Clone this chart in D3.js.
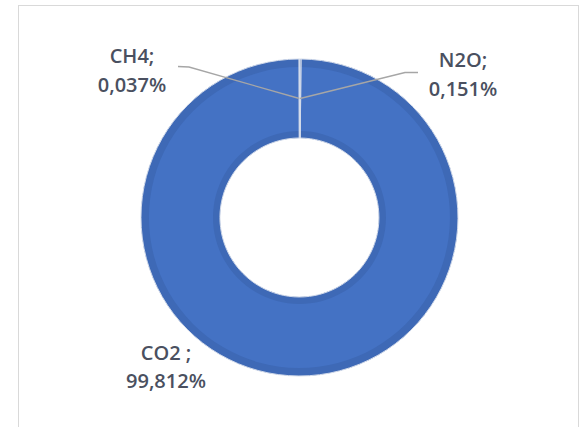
<!DOCTYPE html>
<html>
<head>
<meta charset="utf-8">
<script src="https://cdn.jsdelivr.net/npm/d3@7"></script>
<style>
  html, body { margin: 0; padding: 0; background: #fff; }
  svg { display: block; }
</style>
</head>
<body>
<svg id="chart" width="580" height="427"></svg>
<script>
// Data (drawing order as in the source chart: N2O, CO2, CH4 clockwise from 12 o'clock)
const categories = ["N2O", "CO2", "CH4"];
const values = [0.151, 99.812, 0.037];
const labelNames = ["N2O;", "CO2 ;", "CH4;"];

const fmt = v => v.toFixed(3).replace(".", ",") + "%";

const svg = d3.select("#chart");

// chart frame
svg.append("rect")
  .attr("x", 18.5).attr("y", 5.5)
  .attr("width", 560).attr("height", 440)
  .attr("fill", "#fff")
  .attr("stroke", "#d9d9d9").attr("stroke-width", 1);

const cx = 299.5, cy = 217.5, rOuter = 158.5, rInner = 79.5;
const g = svg.append("g").attr("transform", `translate(${cx},${cy})`);

const data = categories.map((c, i) => ({ cat: c, value: values[i], name: labelNames[i] }));
const pie = d3.pie().sort(null).value(d => d.value);
const arcs = pie(data);

const arc = d3.arc().innerRadius(rInner).outerRadius(rOuter);
const color = d3.scaleOrdinal().domain(categories).range(["#4472C4", "#4472C4", "#4472C4"]);

// base slices
g.selectAll("path.slice")
  .data(arcs)
  .join("path")
  .attr("class", "slice")
  .attr("d", arc)
  .attr("fill", d => color(d.data.cat));

// bevel-like darker edges
const outerBand = d3.arc().innerRadius(rOuter - 8).outerRadius(rOuter);
const innerBand = d3.arc().innerRadius(rInner).outerRadius(rInner + 7);
g.selectAll("path.ob")
  .data(arcs)
  .join("path")
  .attr("class", "ob")
  .attr("d", outerBand)
  .attr("fill", "#3e69b6");
g.selectAll("path.ib")
  .data(arcs)
  .join("path")
  .attr("class", "ib")
  .attr("d", innerBand)
  .attr("fill", "#3e69b6");

// slice borders
g.selectAll("path.border")
  .data(arcs)
  .join("path")
  .attr("class", "border")
  .attr("d", arc)
  .attr("fill", "none")
  .attr("stroke", "#d3dbea")
  .attr("stroke-width", 1);

// label layout
const labelPos = {
  "N2O": { x: 463, y1: 67, y2: 96, line: [[418, 72.5], [405, 72.5]] },
  "CH4": { x: 132, y1: 63, y2: 92, line: [[178, 66.5], [189, 67]] },
  "CO2": { x: 166, y1: 360, y2: 388, line: null }
};

const labels = svg.append("g");
arcs.forEach(a => {
  const p = labelPos[a.data.cat];
  const c = arc.centroid(a);
  const target = [cx + c[0], cy + c[1]];
  if (p.line) {
    labels.append("path")
      .attr("d", d3.line()([p.line[0], p.line[1], target]))
      .attr("fill", "none")
      .attr("stroke", "#a6a6a6")
      .attr("stroke-width", 1.3);
  }
  const t = labels.append("text")
    .attr("text-anchor", "middle")
    .attr("font-family", "'Open Sans', sans-serif")
    .attr("font-weight", 600)
    .attr("font-size", 20)
    .attr("fill", "#4a5060");
  t.append("tspan").attr("x", p.x).attr("y", p.y1).text(a.data.name);
  t.append("tspan").attr("x", p.x).attr("y", p.y2).text(fmt(a.data.value));
});
</script>
</body>
</html>
